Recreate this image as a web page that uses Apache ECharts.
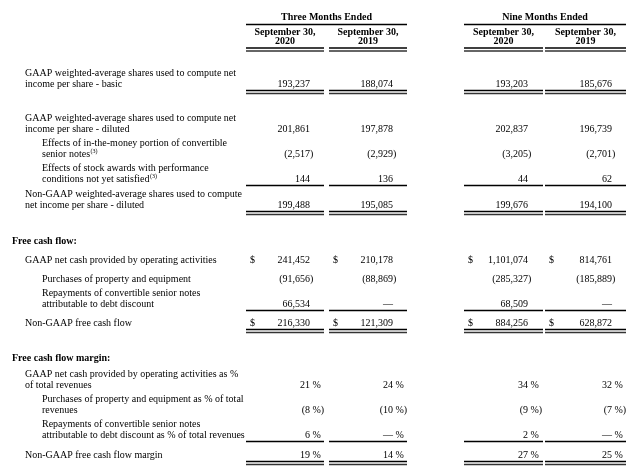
<!DOCTYPE html>
<html><head><meta charset="utf-8">
<script src="https://cdn.jsdelivr.net/npm/echarts@6/dist/echarts.min.js"></script>
<style>html,body{margin:0;padding:0;background:#fff}#chart{width:640px;height:467px}</style>
</head><body><div id="chart"></div>
<script>
// ---------- data ----------
const groupHeaders = ['Three Months Ended', 'Nine Months Ended'];
const columnHeaders = ['September 30,\n2020', 'September 30,\n2019', 'September 30,\n2020', 'September 30,\n2019'];
const rowLabels = [
  'GAAP weighted-average shares used to compute net\nincome per share - basic',
  'GAAP weighted-average shares used to compute net\nincome per share - diluted',
  'Effects of in-the-money portion of convertible\nsenior notes',
  'Effects of stock awards with performance\nconditions not yet satisfied',
  'Non-GAAP weighted-average shares used to compute\nnet income per share - diluted',
  'Free cash flow:',
  'GAAP net cash provided by operating activities',
  'Purchases of property and equipment',
  'Repayments of convertible senior notes\nattributable to debt discount',
  'Non-GAAP free cash flow',
  'Free cash flow margin:',
  'GAAP net cash provided by operating activities as %\nof total revenues',
  'Purchases of property and equipment as % of total\nrevenues',
  'Repayments of convertible senior notes\nattributable to debt discount as % of total revenues',
  'Non-GAAP free cash flow margin'
];
const rowNotes = ['', '', '(3)', '(3)', '', '', '', '', '', '', '', '', '', '', ''];
const q3_2020  = [193237, 201861, -2517, 144, 199488, null, 241452, -91656, 66534, 216330, null, 21, -8, 6, 19];
const q3_2019  = [188074, 197878, -2929, 136, 195085, null, 210178, -88869, 0, 121309, null, 24, -10, 0, 14];
const ytd_2020 = [193203, 202837, -3205, 44, 199676, null, 1101074, -285327, 68509, 884256, null, 34, -9, 2, 27];
const ytd_2019 = [185676, 196739, -2701, 62, 194100, null, 814761, -185889, 0, 628872, null, 32, -7, 0, 25];
const rowUnit     = ['', '', '', '', '', '', '', '', '', '', '', '%', '%', '%', '%'];
const rowCurrency = [false, false, false, false, false, false, true, false, false, true, false, false, false, false, false];

// ---------- layout / style ----------
const FONT = '"Liberation Serif","Times New Roman",serif';
const FS = 10;
const INK = '#000';
const columns = [q3_2020, q3_2019, ytd_2020, ytd_2019];
const colLeft  = [246, 329, 464, 545];
const colRight = [324, 407, 543, 626];
const numRight = [310, 393, 528, 612];
const groupSpan = [[246, 407], [464, 626]];
const indentX = [12, 25, 42];
const rowIndent = [1, 1, 2, 2, 1, 0, 1, 2, 2, 1, 0, 1, 2, 2, 1];
const rowSection = [false, false, false, false, false, true, false, false, false, false, true, false, false, false, false];
const rowGap = [84, 45, 25, 25, 26, 36, 19, 19, 25, 19, 35, 27, 25, 25, 20];
const rowRule = ['double', '', '', 'single', 'double', '', '', '', 'single', 'double', '', '', '', 'single', 'double'];
const lineStep = 10.5;
const groupHeaderY = 17, groupRuleY = 24.5, colHeaderY = 41.5;
const rowY = [];
rowGap.reduce((acc, g) => { const v = acc + g; rowY.push(v); return v; }, 0);

const measureCtx = document.createElement('canvas').getContext('2d');
function textWidth(t, weight, size) {
  measureCtx.font = (weight || 'normal') + ' ' + size + 'px ' + FONT;
  return measureCtx.measureText(t).width;
}
function fmt(n) { return String(Math.abs(n)).replace(/\B(?=(\d{3})+(?!\d))/g, ','); }

function txt(p, text, align, weight, size) {
  return { type: 'text', x: p[0], y: p[1], silent: true,
    style: { text: text, fill: INK, fontFamily: FONT, fontSize: size || FS, fontWeight: weight || 'normal',
      align: align, verticalAlign: 'middle' } };
}
function hline(api, x1, x2, y, color) {
  const a = api.coord([x1, y]), b = api.coord([x2, y]);
  return { type: 'line', silent: true, shape: { x1: a[0], y1: a[1], x2: b[0], y2: b[1] },
    style: { stroke: color || INK, lineWidth: 1.6 } };
}
function rule(api, kind, c, y, out) {
  if (kind === 'single') out.push(hline(api, colLeft[c], colRight[c], y + 6.5));
  if (kind === 'double') {
    out.push(hline(api, colLeft[c], colRight[c], y + 6.5));
    out.push(hline(api, colLeft[c], colRight[c], y + 9.5, '#333'));
  }
}

function renderRow(params, api) {
  const i = params.dataIndex;
  const y = rowY[i];
  const children = [];
  const weight = rowSection[i] ? 'bold' : 'normal';
  const lines = rowLabels[i].split('\n');
  lines.forEach((ln, k) => {
    const ly = y - (lines.length - 1 - k) * lineStep;
    const p = api.coord([indentX[rowIndent[i]], ly]);
    children.push(txt(p, ln, 'left', weight));
    if (k === lines.length - 1 && rowNotes[i]) {
      const w = textWidth(ln, weight, FS);
      children.push(txt([p[0] + w + 0.5, p[1] - 3], rowNotes[i], 'left', 'normal', 6));
    }
  });
  columns.forEach((vals, c) => {
    const v = vals[i];
    if (v === null || v === undefined) return;
    const p = api.coord([numRight[c], y]);
    let main, suffix = '';
    if (v === 0) main = '\u2014';
    else if (v < 0) { main = '(' + fmt(v); suffix = ')'; }
    else main = fmt(v);
    if (rowUnit[i] === '%') suffix = ' %' + (v < 0 ? ')' : '');
    children.push(txt(p, main, 'right'));
    if (suffix) children.push(txt(p, suffix, 'left'));
    if (rowCurrency[i]) children.push(txt(api.coord([colLeft[c] + 4, y]), '$', 'left'));
    rule(api, rowRule[i], c, y, children);
  });
  return { type: 'group', children: children };
}

function renderHeader(params, api) {
  const c = params.dataIndex;
  const children = [];
  const cx = (colLeft[c] + colRight[c]) / 2;
  const lines = columnHeaders[c].split('\n');
  lines.forEach((ln, k) => {
    const ly = colHeaderY - (lines.length - 1 - k) * 9.5;
    children.push(txt(api.coord([cx, ly]), ln, 'center', 'bold'));
  });
  rule(api, 'double', c, colHeaderY, children);
  if (c % 2 === 0) {
    const g = c / 2;
    const span = groupSpan[g];
    children.push(txt(api.coord([(span[0] + span[1]) / 2, groupHeaderY]), groupHeaders[g], 'center', 'bold'));
    children.push(hline(api, span[0], span[1], groupRuleY));
  }
  return { type: 'group', children: children };
}

const chart = echarts.init(document.getElementById('chart'), null, { renderer: 'canvas' });
chart.setOption({
  animation: false,
  backgroundColor: '#fff',
  grid: { left: 0, right: 0, top: 0, bottom: 0 },
  xAxis: { type: 'value', min: 0, max: 640, show: false },
  yAxis: { type: 'value', min: 0, max: 467, inverse: true, show: false },
  series: [
    { type: 'custom', renderItem: renderHeader, data: columnHeaders.map((_, c) => [0, 0]) },
    { type: 'custom', renderItem: renderRow, data: rowY.map(y => [0, y]) }
  ]
});
</script>
</body></html>
